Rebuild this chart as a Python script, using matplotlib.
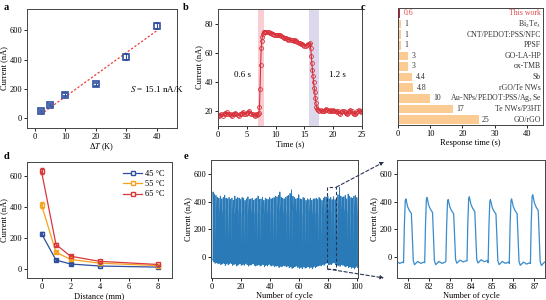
import matplotlib
matplotlib.use('Agg')
import matplotlib.pyplot as plt
import numpy as np
from matplotlib.patches import Rectangle, ConnectionPatch
from matplotlib.lines import Line2D

plt.rcParams['font.family'] = ['Liberation Serif', 'DejaVu Serif']
plt.rcParams['mathtext.fontset'] = 'stix'
plt.rcParams['font.size'] = 6
plt.rcParams['axes.linewidth'] = 0.7
plt.rcParams['axes.edgecolor'] = '#444444'
plt.rcParams['xtick.major.size'] = 2.2
plt.rcParams['ytick.major.size'] = 2.2
plt.rcParams['xtick.major.width'] = 0.6
plt.rcParams['ytick.major.width'] = 0.6
plt.rcParams['xtick.major.pad'] = 1.2
plt.rcParams['ytick.major.pad'] = 1.2
plt.rcParams['axes.labelpad'] = 0.8

# a: current vs temperature difference
dT = [2, 5, 10, 20, 30, 40]
cur_a = [48, 90, 160, 230, 415, 630]
err_a = [8, 8, 12, 10, 20, 18]
slope_a = 15.1

# b: response curve
t_b = np.concatenate([np.linspace(0, 7.0, 36), np.linspace(7.1, 8.0, 10),
                      np.linspace(8.2, 16.0, 40), np.linspace(16.1, 17.2, 12),
                      np.linspace(17.4, 25.0, 39)])
cur_b = [17.5, 17, 17.5, 18, 17, 18.5, 19, 18, 19.5, 18.5,
         18, 17.5, 17, 18, 18.5, 19, 18, 17.5, 17, 18,
         18.5, 19, 19.5, 18.5, 18, 19, 19.5, 20, 19, 18.5,
         18, 17.5, 17, 18, 17.5, 18,
         19, 23, 35, 52, 63, 68, 71, 73, 74, 74.5,
         74.5, 74, 74.5, 74, 73.5, 73.5, 73, 73, 72.5, 72.5,
         72, 72, 72.5, 72, 71.5, 71, 70.5, 70, 70, 69.5,
         69, 69.5, 69, 68.5, 68.5, 68, 68.5, 68, 67.5, 67,
         66.5, 66, 66, 65.5, 65, 65, 65.5, 66, 66, 66.5,
         63, 58, 53, 48, 44, 40, 36, 33, 29, 26, 23, 21.5,
         21, 20.5, 21, 20.5, 20, 20.5, 21, 21.5, 21, 20.5,
         21, 20, 20.5, 21, 20.5, 20, 19.5, 20, 19, 18.5,
         19.5, 20, 20.5, 19.5, 19, 18, 19, 20.5, 21, 20,
         19, 18.5, 18, 19, 20, 21, 20.5, 19.5, 20]

# c: response time comparison
materials = ['This work', 'Bi$_2$Te$_3$', 'CNT/PEDOT:PSS/NFC', 'PPSF', 'GO-LA-HP',
             'ox-TMB', 'Sb', 'rGO/Te NWs', 'Au-NPs/PEDOT:PSS/Ag$_2$Se',
             'Te NWs/P3HT', 'GO/rGO']
resp_time = [0.6, 1, 1, 1, 3, 3, 4.4, 4.8, 10, 17, 25]
resp_lbl = ['0.6', '1', '1', '1', '3', '3', '4.4', '4.8', '10', '17', '25']

# d: current vs distance
dist = [0, 1, 2, 4, 8]
temps = ['45 °C', '55 °C', '65 °C']
cur_d = [[230, 60, 35, 22, 15],
         [415, 110, 65, 40, 25],
         [630, 160, 85, 52, 32]]
err_d = [[10, 6, 4, 3, 3],
         [20, 6, 5, 4, 3],
         [20, 8, 5, 4, 3]]
colors_d = ['#2F4F9E', '#F5A21F', '#D8383A']

# e: cycling stability, per-cycle peak and trough (nA)
peaks = [470, 455, 445, 430, 425, 440, 420, 430, 445, 425,
         420, 430, 415, 425, 410, 440, 420, 430, 425, 415,
         430, 425, 410, 420, 435, 415, 420, 425, 410, 420,
         425, 440, 415, 420, 430, 410, 425, 420, 415, 430,
         420, 425, 430, 440, 435, 445, 470, 430, 425, 420,
         430, 440, 445, 460, 485, 440, 430, 420, 425, 450,
         420, 415, 430, 425, 410, 420, 415, 425, 410, 420,
         420, 425, 415, 430, 420, 410, 425, 435, 430, 440,
         420, 430, 415, 435, 415, 420, 450, 505, 440, 430,
         435, 445, 420, 455, 440, 430, 425, 440, 445, 430]
troughs = [-20, -30, -25, -35, -30, -40, -35, -30, -45, -35,
           -40, -35, -30, -45, -40, -35, -50, -40, -35, -45,
           -40, -45, -35, -40, -50, -45, -40, -35, -45, -50,
           -45, -40, -50, -45, -40, -55, -45, -50, -40, -45,
           -50, -45, -55, -50, -45, -60, -50, -55, -45, -50,
           -55, -50, -60, -55, -65, -60, -55, -50, -60, -65,
           -60, -70, -55, -65, -60, -55, -65, -60, -70, -55,
           -60, -55, -50, -45, -50, -40, -45, -35, -30, -40,
           -40, -40, -30, -28, -40, -45, -45, -50, -40, -45,
           -50, -55, -45, -60, -55, -65, -60, -70, -55, -60]
# shape of one cycle (offset from cycle number, fraction of swing)
cyc_phase = [-0.19, -0.15, -0.11, -0.08, 0.0, 0.08, 0.18, 0.22, 0.27, 0.33, 0.48, 0.63, 0.78]
cyc_frac = [0.0, 0.6, 0.97, 1.0, 0.88, 0.82, 0.77, 0.45, 0.03, -0.03, 0.02, -0.01, 0.01]

xs, ys = [0.0], [troughs[0]]
for k in range(len(peaks)):
    for ph, fr in zip(cyc_phase, cyc_frac):
        xs.append(k + 1 + ph)
        ys.append(troughs[k] + fr * (peaks[k] - troughs[k]))
xs = np.array(xs)
ys = np.array(ys)

fig = plt.figure(figsize=(5.46, 3.0), dpi=100)
W, H = 546, 300


def add_ax(l, r, t, b):
    return fig.add_axes([l / W, 1 - b / H, (r - l) / W, (b - t) / H])


def letter(x, y, s):
    fig.text(x / W, 1 - y / H, s, fontsize=7.5, fontweight='bold', va='top', ha='left')


# ---- a
ax = add_ax(27, 177, 9, 128)
xf = np.array([2, 40])
ax.plot(xf, slope_a * xf - 5, color='#F03C3C', lw=0.9, dashes=(1.8, 1.5))
ax.errorbar(dT, cur_a, yerr=err_a, fmt='s', ms=4.5, mfc='none', mec='#2F4F9E',
            mew=1.2, ecolor='#2F4F9E', elinewidth=0.8, capsize=1.5)
ax.text(31, 200, '$S$ = 15.1 nA/K', fontsize=6.5, ha='left', va='center')
ax.set_xlim(-2.5, 46.5)
ax.set_ylim(-68, 746)
ax.set_xticks([0, 10, 20, 30, 40])
ax.set_yticks([0, 200, 400, 600])
ax.set_xlabel('Δ$T$ (K)')
ax.set_ylabel('Current (nA)')
letter(4, 3, 'a')

# ---- b
ax = add_ax(218, 362, 9, 126)
ax.axvspan(6.9, 8.0, color='#F9CDD1', lw=0)
ax.axvspan(15.8, 17.5, color='#DDD7EB', lw=0)
ax.plot(t_b, cur_b, '-o', color='#D8303A', lw=0.8, ms=2.8, mfc='none', mew=0.6)
ax.text(4.3, 45, '0.6 s', fontsize=6.5, ha='center', va='center')
ax.text(20.8, 45, '1.2 s', fontsize=6.5, ha='center', va='center')
ax.set_xlim(0, 25)
ax.set_ylim(10, 90)
ax.set_xticks([0, 5, 10, 15, 20, 25])
ax.set_yticks([20, 40, 60, 80])
ax.set_xlabel('Time (s)')
ax.set_ylabel('Current (nA)')
letter(183, 3, 'b')

# ---- c
ax = add_ax(398, 543, 8, 125)
ypos = np.arange(len(materials))
bar_cols = ['#C8202C'] + ['#FCCB94'] * (len(materials) - 1)
ax.barh(ypos, resp_time, height=0.82, color=bar_cols, lw=0)
for i in range(len(materials)):
    c = '#E04848' if i == 0 else '#333333'
    ax.text(resp_time[i] + 1.1, ypos[i], resp_lbl[i], fontsize=5.6, va='center', ha='left', color=c)
    ax.text(44.4, ypos[i], materials[i], fontsize=5.6, va='center', ha='right', color=c)
ax.set_xlim(0, 45)
ax.set_ylim(len(materials) - 0.5, -0.5)
ax.set_yticks([])
ax.set_xticks([0, 10, 20, 30, 40])
ax.set_xlabel('Response time (s)')
letter(361, 3, 'c')

# ---- d
ax = add_ax(27, 172, 162, 278)
for i in range(3):
    ax.errorbar(dist, cur_d[i], yerr=err_d[i], fmt='-s', color=colors_d[i], lw=0.9,
                ms=3.5, mfc='none', mew=1.0, elinewidth=0.7, capsize=1.2)
handles = [Line2D([], [], color=colors_d[i], lw=0.9, marker='s', ms=3.5, mfc='white',
                  mew=1.0) for i in range(3)]
ax.legend(handles, temps, loc='upper right', frameon=False, fontsize=6, handlelength=2.2,
          handletextpad=0.4, labelspacing=0.3, borderaxespad=0.5)
ax.set_xlim(-1, 9)
ax.set_ylim(-55, 690)
ax.set_xticks([0, 2, 4, 6, 8])
ax.set_yticks([0, 200, 400, 600])
ax.set_xlabel('Distance (mm)')
ax.set_ylabel('Current (nA)')
letter(4, 152, 'd')

# ---- e
ax_e = add_ax(211, 358, 160, 278)
ax_e.plot(xs, ys, color='#2A7AB8', lw=0.6)
ax_e.set_xlim(-0.5, 100.7)
ax_e.set_ylim(-150, 700)
ax_e.set_xticks([0, 20, 40, 60, 80, 100])
ax_e.set_yticks([0, 200, 400, 600])
ax_e.set_xlabel('Number of cycle')
ax_e.set_ylabel('Current (nA)')
ax_e.add_patch(Rectangle((79.7, -85), 6.1, 590, fill=False, ls=(0, (3, 2)),
                         lw=0.8, ec='#2B3550', zorder=5))
letter(184, 152, 'e')

# ---- e zoom
ax_z = add_ax(397, 545, 160, 278)
ax_z.plot(xs, ys, color='#3A8CCB', lw=0.9)
ax_z.set_xlim(80.5, 87.5)
ax_z.set_ylim(-150, 700)
ax_z.set_xticks([81, 82, 83, 84, 85, 86, 87])
ax_z.set_yticks([0, 200, 400, 600])
ax_z.set_xlabel('Number of cycle')
ax_z.set_ylabel('Current (nA)')

for (xa, ya), yb in [((85.8, 505), 162), ((79.7, -85), 278)]:
    con = ConnectionPatch(xyA=(xa, ya), coordsA=ax_e.transData,
                          xyB=(384 / W, 1 - yb / H), coordsB=fig.transFigure,
                          arrowstyle='-|>', mutation_scale=5, ls=(0, (3, 2)),
                          lw=0.8, color='#2B3550')
    fig.add_artist(con)

fig.savefig('out.png', dpi=100)
